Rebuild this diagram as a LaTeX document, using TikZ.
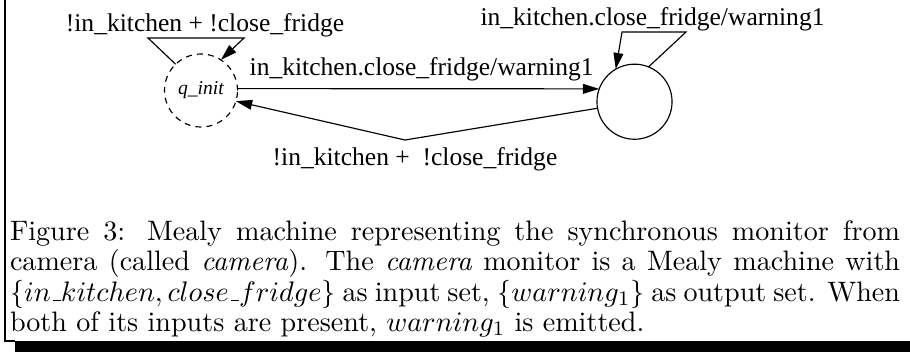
\documentclass[tikz,border=0pt]{standalone}
\usepackage{fontspec}
\newfontfamily\timesfont{Liberation Serif}
\usetikzlibrary{arrows.meta}
\newcommand\capline[1]{\hbox to 345pt{#1}}
\newcommand\mus{\kern.06em\vbox{\hrule width.3em}}
\begin{document}
\begin{tikzpicture}[x=0.3876pt,y=-0.3876pt,
  every node/.style={inner sep=0pt,outer sep=0pt},
  statebox/.style={circle,draw,line width=0.45pt,inner sep=0pt},
  lbl/.style={font=\timesfont\fontsize{9.9}{11}\selectfont,anchor=base},
  capl/.style={anchor=base west,font=\fontsize{10.9}{12}\selectfont},
  edge/.style={draw,line width=0.45pt,-{Triangle[length=6.3pt,width=3.8pt]}}]
\useasboundingbox (0,0) rectangle (910,352);
% frame
\draw[line width=0.75pt] (5,0) -- (5,341) -- (15,341);
\fill[black] (15,341) rectangle (910,352);
% states
\node[statebox,dash pattern=on 2.3pt off 2pt,minimum size=28.3pt,font=\timesfont\itshape\fontsize{7.6}{9}\selectfont] (qi) at (201,90.5) {q\_init};
\node[statebox,minimum size=29.1pt] (qr) at (634.5,101.7) {};
% labels
\node[lbl] (l1) at (205,31) {!in\_kitchen + !close\_fridge};
\node[lbl] (l2) at (421.7,75) {in\_kitchen.close\_fridge/warning1};
\node[lbl] (l3) at (652.5,25) {in\_kitchen.close\_fridge/warning1};
\node[lbl] (l4) at (415,165) {!in\_kitchen + \ !close\_fridge};
% bend points
\coordinate (a1) at (148,38);
\coordinate (a2) at (244,38);
\coordinate (b1) at (686,32);
\coordinate (b2) at (622,32);
\coordinate (c1) at (405,140);
% edges
\draw[edge] (qi.134) -- (a1) -- (a2) -- (qi.57);
\draw[edge] (qi.3) -- (qr.160);
\draw[edge] (qr.68) -- (b1) -- (b2) -- (qr.120);
\draw[edge] (qr.190) -- (c1) -- (qi.-17);
% caption
\node[capl] (cap1) at (10,240) {\capline{Figure 3: Mealy machine representing the synchronous monitor from}};
\node[capl] (cap2) at (10,270.5) {\capline{camera (called \textit{camera}). The \textit{camera} monitor is a Mealy machine with}};
\node[capl] (cap3) at (10,301) {\capline{$\{in\mus kitchen, close\mus fridge\}$ as input set, $\{warning_1\}$ as output set. When}};
\node[capl] (cap4) at (10,331.5) {both of its inputs are present, $warning_1$ is emitted.};
\end{tikzpicture}
\end{document}
